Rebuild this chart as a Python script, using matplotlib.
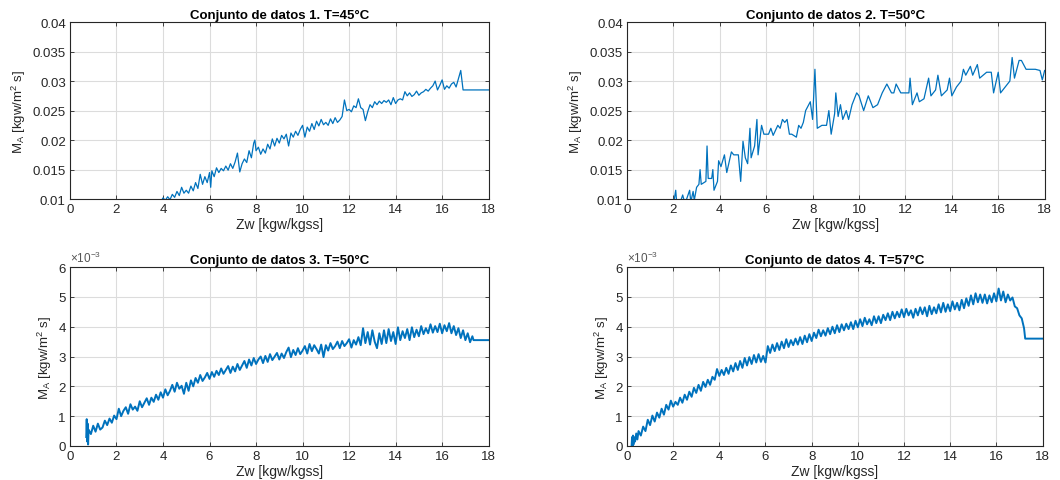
import matplotlib
matplotlib.use("Agg")
import matplotlib.pyplot as plt
from matplotlib.ticker import FuncFormatter

# ---------------- data ----------------
titles = ["Conjunto de datos 1. T=45°C", "Conjunto de datos 2. T=50°C",
          "Conjunto de datos 3. T=50°C", "Conjunto de datos 4. T=57°C"]

x1 = [3.90, 4.0, 4.1, 4.2, 4.3, 4.4, 4.5, 4.6, 4.7, 4.8, 4.9, 5.0, 5.1, 5.2, 5.3, 5.4, 5.5, 5.6, 5.7, 5.8,
      5.9, 6.0, 6.05, 6.1, 6.2, 6.3, 6.4, 6.5, 6.6, 6.7, 6.8, 6.9, 7.0, 7.1, 7.2, 7.3, 7.4, 7.5, 7.6, 7.7,
      7.8, 7.9, 7.95, 8.0, 8.1, 8.2, 8.3, 8.4, 8.5, 8.6, 8.7, 8.8, 8.9, 9.0, 9.1, 9.2, 9.3, 9.4, 9.5, 9.6,
      9.7, 9.8, 9.9, 10.0, 10.1, 10.2, 10.3, 10.4, 10.5, 10.6, 10.7, 10.8, 10.9, 11.0, 11.1, 11.2, 11.3,
      11.4, 11.5, 11.6, 11.7, 11.8, 11.9, 12.0, 12.1, 12.2, 12.3, 12.4, 12.5, 12.6, 12.7, 12.8, 12.9, 13.0,
      13.1, 13.2, 13.3, 13.4, 13.5, 13.6, 13.7, 13.8, 13.9, 14.0, 14.1, 14.2, 14.3, 14.4, 14.5, 14.6, 14.7,
      14.8, 14.9, 15.0, 15.1, 15.2, 15.3, 15.4, 15.5, 15.6, 15.7, 15.8, 15.9, 16.0, 16.1, 16.2, 16.3, 16.4,
      16.5, 16.6, 16.7, 16.8, 16.9, 18.0]
y1 = [9.5, 10.2, 9.8, 10.4, 9.9, 10.8, 10.3, 11.3, 10.6, 12.0, 11.0, 11.5, 11.0, 12.2, 11.4, 12.8, 11.8,
      14.2, 12.5, 13.8, 12.8, 14.5, 12.0, 14.8, 13.8, 15.3, 14.5, 15.2, 14.8, 15.6, 14.9, 16.0, 15.2, 16.3,
      17.8, 14.6, 16.0, 16.8, 16.2, 18.2, 17.0, 19.5, 20.0, 18.2, 18.8, 17.6, 18.5, 17.8, 19.3, 18.5, 20.2,
      19.0, 20.3, 19.5, 20.8, 20.2, 21.0, 19.0, 21.2, 20.5, 21.5, 20.8, 21.8, 22.5, 20.5, 22.2, 21.5, 22.8,
      21.8, 23.2, 22.4, 23.5, 22.6, 23.0, 22.5, 23.6, 22.8, 23.8, 23.0, 23.4, 24.0, 26.8, 25.0, 25.2, 24.8,
      25.8, 25.5, 27.0, 25.5, 25.2, 23.3, 24.8, 26.0, 25.5, 26.5, 26.0, 26.6, 26.2, 26.7, 26.4, 26.8, 26.0,
      27.2, 26.2, 26.8, 27.0, 26.8, 28.2, 27.5, 28.0, 27.4, 27.7, 28.3, 27.6, 28.0, 28.2, 28.6, 28.3, 28.8,
      29.2, 30.0, 28.5, 29.3, 30.2, 28.6, 29.2, 28.8, 29.5, 29.8, 29.0, 30.4, 31.8, 28.5, 28.5]

x2 = [2.0, 2.1, 2.15, 2.3, 2.4, 2.5, 2.7, 2.75, 2.85, 2.9, 3.0, 3.1, 3.15, 3.2, 3.4, 3.45, 3.5, 3.65,
      3.7, 3.75, 3.9, 3.95, 4.05, 4.2, 4.3, 4.5, 4.6, 4.8, 4.9, 5.0, 5.1, 5.2, 5.3, 5.35, 5.5, 5.6, 5.65,
      5.8, 5.9, 6.1, 6.2, 6.3, 6.5, 6.6, 6.7, 6.8, 6.9, 7.0, 7.1, 7.3, 7.4, 7.5, 7.6, 7.7, 7.9, 8.0, 8.1,
      8.2, 8.4, 8.6, 8.7, 8.8, 8.95, 9.0, 9.1, 9.2, 9.3, 9.45, 9.55, 9.7, 9.9, 10.0, 10.2, 10.4, 10.6,
      10.8, 11.0, 11.2, 11.4, 11.5, 11.6, 11.8, 12.0, 12.15, 12.2, 12.3, 12.5, 12.6, 12.8, 13.0, 13.1,
      13.3, 13.4, 13.55, 13.8, 13.9, 14.0, 14.2, 14.4, 14.5, 14.6, 14.8, 14.9, 15.1, 15.2, 15.5, 15.7,
      15.8, 16.0, 16.1, 16.3, 16.5, 16.6, 16.7, 16.9, 17.0, 17.2, 17.6, 17.8, 17.9, 18.0]
y2 = [9.0, 11.5, 9.0, 9.5, 10.7, 9.2, 11.5, 9.5, 11.3, 9.8, 12.0, 12.5, 15.0, 12.5, 13.0, 19.0, 13.5,
      13.5, 15.0, 11.5, 13.0, 16.5, 15.5, 17.5, 14.5, 18.0, 17.5, 17.5, 13.0, 19.8, 17.0, 16.0, 22.0, 17.0,
      19.0, 23.5, 17.5, 22.5, 21.0, 21.0, 22.0, 20.8, 22.5, 22.0, 23.5, 23.0, 23.5, 21.0, 21.0, 20.5,
      22.5, 22.0, 23.0, 25.0, 26.5, 23.5, 32.0, 22.0, 22.5, 22.5, 25.0, 21.0, 24.5, 28.0, 24.0, 26.0,
      23.5, 25.0, 23.5, 26.0, 28.0, 27.5, 25.0, 27.5, 25.5, 26.0, 28.0, 29.5, 28.0, 28.0, 29.5, 28.0,
      28.0, 28.0, 30.5, 26.0, 28.0, 26.5, 27.0, 30.5, 27.5, 28.5, 31.0, 27.5, 28.5, 30.5, 27.5, 29.0,
      30.0, 32.0, 31.0, 32.5, 31.0, 32.8, 30.5, 31.5, 31.5, 28.0, 31.5, 28.0, 29.0, 30.0, 34.0, 30.5,
      33.5, 33.5, 32.0, 32.0, 31.8, 30.2, 31.8]

x3 = [0.70, 0.72, 0.74, 0.76, 0.78, 0.80, 0.9, 1.0, 1.1, 1.2, 1.3, 1.4, 1.5, 1.6, 1.7, 1.8, 1.9, 2.0,
      2.1, 2.2, 2.3, 2.4, 2.5, 2.6, 2.7, 2.8, 2.9, 3.0, 3.1, 3.2, 3.3, 3.4, 3.5, 3.6, 3.7, 3.8, 3.9, 4.0,
      4.1, 4.2, 4.3, 4.4, 4.5, 4.6, 4.7, 4.8, 4.9, 5.0, 5.1, 5.2, 5.3, 5.4, 5.5, 5.6, 5.7, 5.8, 5.9, 6.0,
      6.1, 6.2, 6.3, 6.4, 6.5, 6.6, 6.7, 6.8, 6.9, 7.0, 7.1, 7.2, 7.3, 7.4, 7.5, 7.6, 7.7, 7.8, 7.9, 8.0,
      8.1, 8.2, 8.3, 8.4, 8.5, 8.6, 8.7, 8.8, 8.9, 9.0, 9.1, 9.2, 9.3, 9.4, 9.5, 9.6, 9.7, 9.8, 9.9, 10.0,
      10.1, 10.2, 10.3, 10.4, 10.5, 10.6, 10.7, 10.8, 10.9, 11.0, 11.1, 11.2, 11.3, 11.4, 11.5, 11.6,
      11.7, 11.8, 11.9, 12.0, 12.1, 12.2, 12.3, 12.4, 12.5, 12.6, 12.7, 12.8, 12.9, 13.0, 13.1, 13.2,
      13.3, 13.4, 13.5, 13.6, 13.7, 13.8, 13.9, 14.0, 14.1, 14.2, 14.3, 14.4, 14.5, 14.6, 14.7, 14.8,
      14.9, 15.0, 15.1, 15.2, 15.3, 15.4, 15.5, 15.6, 15.7, 15.8, 15.9, 16.0, 16.1, 16.2, 16.3, 16.4,
      16.5, 16.6, 16.7, 16.8, 16.9, 17.0, 17.1, 17.2, 17.3, 17.35, 18.0]
y3 = [0.30, 0.90, 0.15, 0.75, 0.05, 0.55,
      0.40, 0.68, 0.48, 0.75, 0.55, 0.62, 0.85, 0.70, 0.92, 0.78, 1.02, 0.90,
      1.25, 1.00, 1.18, 1.30, 1.08, 1.40, 1.22, 1.32, 1.18, 1.50,
      1.30, 1.45, 1.60, 1.38, 1.62, 1.48, 1.72, 1.55, 1.80, 1.62,
      1.90, 1.70, 1.85, 2.05, 1.82, 2.12, 1.92, 2.02, 1.75, 2.12,
      1.85, 2.20, 2.00, 2.28, 2.12, 2.38, 2.18, 2.30, 2.45, 2.25,
      2.48, 2.32, 2.52, 2.38, 2.60, 2.42, 2.55, 2.68, 2.45, 2.66,
      2.50, 2.75, 2.55, 2.70, 2.85, 2.62, 2.90, 2.70, 2.95, 2.75,
      2.90, 3.00, 2.78, 3.02, 2.82, 3.08, 2.88, 3.00, 3.12, 2.90,
      3.10, 2.95, 3.15, 3.30, 2.98, 3.22, 3.05, 3.28, 3.08, 3.20,
      3.35, 3.10, 3.42, 3.18, 3.38, 3.25, 3.10, 3.40, 2.98, 3.38,
      3.20, 3.45, 3.25, 3.35, 3.50, 3.28, 3.52, 3.35, 3.45, 3.58,
      3.30, 3.55, 3.40, 3.65, 3.38, 3.95, 3.45, 3.82, 3.40, 3.88,
      3.50, 3.28, 3.78, 3.42, 3.88, 3.45, 3.92, 3.52, 3.82, 3.42,
      3.98, 3.55, 3.85, 3.62, 3.92, 3.55, 3.98, 3.65, 3.90, 3.68,
      4.02, 3.75, 3.95, 3.78, 4.08, 3.80, 4.02, 3.82, 4.10, 3.78,
      4.05, 3.85, 4.12, 3.78, 4.02, 3.72, 3.95, 3.62, 3.88, 3.55,
      3.78, 3.48, 3.68, 3.55, 3.55]

x4 = [0.20, 0.22, 0.24, 0.26, 0.28, 0.30, 0.35, 0.4, 0.45, 0.5, 0.6, 0.7, 0.8, 0.9, 1.0, 1.1, 1.2, 1.3,
      1.4, 1.5, 1.6, 1.7, 1.8, 1.9, 2.0, 2.1, 2.2, 2.3, 2.4, 2.5, 2.6, 2.7, 2.8, 2.9, 3.0, 3.1, 3.2, 3.3,
      3.4, 3.5, 3.6, 3.7, 3.8, 3.9, 4.0, 4.1, 4.2, 4.3, 4.4, 4.5, 4.6, 4.7, 4.8, 4.9, 5.0, 5.1, 5.2, 5.3,
      5.4, 5.5, 5.6, 5.7, 5.8, 5.9, 6.0, 6.1, 6.2, 6.3, 6.4, 6.5, 6.6, 6.7, 6.8, 6.9, 7.0, 7.1, 7.2, 7.3,
      7.4, 7.5, 7.6, 7.7, 7.8, 7.9, 8.0, 8.1, 8.2, 8.3, 8.4, 8.5, 8.6, 8.7, 8.8, 8.9, 9.0, 9.1, 9.2, 9.3,
      9.4, 9.5, 9.6, 9.7, 9.8, 9.9, 10.0, 10.1, 10.2, 10.3, 10.4, 10.5, 10.6, 10.7, 10.8, 10.9, 11.0,
      11.1, 11.2, 11.3, 11.4, 11.5, 11.6, 11.7, 11.8, 11.9, 12.0, 12.1, 12.2, 12.3, 12.4, 12.5, 12.6,
      12.7, 12.8, 12.9, 13.0, 13.1, 13.2, 13.3, 13.4, 13.5, 13.6, 13.7, 13.8, 13.9, 14.0, 14.1, 14.2,
      14.3, 14.4, 14.5, 14.6, 14.7, 14.8, 14.9, 15.0, 15.1, 15.2, 15.3, 15.4, 15.5, 15.6, 15.7, 15.8,
      15.9, 16.0, 16.1, 16.2, 16.3, 16.4, 16.5, 16.6, 16.7, 16.8, 16.9, 17.0, 17.1, 17.2, 17.25, 18.0]
y4 = [0.00, 0.30, 0.00, 0.35, 0.05, 0.30, 0.15, 0.42, 0.22, 0.50,
      0.35, 0.65, 0.50, 0.88, 0.70, 1.02, 0.82, 1.12, 0.95, 1.25,
      1.05, 1.38, 1.22, 1.52, 1.32, 1.48, 1.38, 1.62, 1.45, 1.72,
      1.55, 1.82, 1.65, 1.95, 1.78, 2.05, 1.85, 2.15, 1.98, 2.22,
      2.05, 2.32, 2.22, 2.58, 2.35, 2.55, 2.38, 2.62, 2.42, 2.70,
      2.50, 2.78, 2.55, 2.85, 2.62, 2.95, 2.70, 2.98, 2.75, 3.05,
      2.80, 3.08, 2.82, 3.02, 2.80, 3.35, 3.12, 3.40, 3.18, 3.45,
      3.22, 3.50, 3.28, 3.58, 3.32, 3.55, 3.38, 3.60, 3.40, 3.65,
      3.42, 3.70, 3.48, 3.75, 3.52, 3.80, 3.62, 3.90, 3.68, 3.88,
      3.70, 3.95, 3.75, 4.00, 3.78, 4.05, 3.82, 4.08, 3.88, 4.10,
      3.92, 4.15, 3.92, 4.20, 3.98, 4.25, 4.02, 4.30, 4.08, 4.25,
      4.05, 4.35, 4.12, 4.35, 4.12, 4.40, 4.22, 4.45, 4.22, 4.50,
      4.28, 4.50, 4.32, 4.58, 4.32, 4.60, 4.38, 4.55, 4.30, 4.60,
      4.38, 4.65, 4.42, 4.65, 4.35, 4.70, 4.42, 4.65, 4.45, 4.75,
      4.48, 4.80, 4.50, 4.75, 4.52, 4.85, 4.58, 4.80, 4.55, 4.90,
      4.62, 4.95, 4.70, 5.05, 4.75, 5.12, 4.82, 5.08, 4.80, 5.08,
      4.78, 5.05, 4.82, 5.12, 4.85, 5.28, 4.88, 5.18, 4.82, 5.08,
      4.88, 4.98, 4.68, 4.62, 4.38, 4.28, 3.95,
      3.60, 3.60]

series = [(x1, [v * 1e-3 for v in y1]), (x2, [v * 1e-3 for v in y2]),
          (x3, [v * 1e-3 for v in y3]), (x4, [v * 1e-3 for v in y4])]
xticks = [0, 2, 4, 6, 8, 10, 12, 14, 16, 18]
yticks_top = [0.01, 0.015, 0.02, 0.025, 0.03, 0.035, 0.04]
yticks_bot = [0, 0.001, 0.002, 0.003, 0.004, 0.005, 0.006]

# ---------------- figure ----------------
plt.rcParams['font.family'] = ['Liberation Sans', 'DejaVu Sans']
plt.rcParams['mathtext.fontset'] = 'custom'
plt.rcParams['mathtext.rm'] = 'Liberation Sans'
plt.rcParams['mathtext.it'] = 'Liberation Sans'

fig = plt.figure(figsize=(10.6, 4.81), dpi=100)
positions = [[0.066, 0.584, 0.395, 0.368], [0.5915, 0.584, 0.394, 0.368],
             [0.066, 0.0707, 0.395, 0.372], [0.5915, 0.0707, 0.392, 0.372]]
line_color = '#0072BD'
text_color = '#262626'
widths = [0.9, 0.9, 1.4, 1.4]

for i, (pos, (xs, ys)) in enumerate(zip(positions, series)):
    ax = fig.add_axes(pos)
    ax.plot(xs, ys, color=line_color, lw=widths[i])
    ax.set_xlim(0, 18)
    ax.set_xticks(xticks)
    if i < 2:
        ax.set_ylim(0.01, 0.04)
        ax.set_yticks(yticks_top)
        ax.yaxis.set_major_formatter(FuncFormatter(lambda v, p: '%g' % round(v, 4)))
    else:
        ax.set_ylim(0, 0.006)
        ax.set_yticks(yticks_bot)
        ax.yaxis.set_major_formatter(FuncFormatter(lambda v, p: '%g' % round(v * 1e3, 3)))
        ax.text(0.0, 1.01, r'$\times 10^{-3}$', transform=ax.transAxes, fontsize=8.5,
                color='#555555', ha='left', va='bottom')
    ax.grid(True, color='#dcdcdc', lw=0.8)
    ax.set_axisbelow(True)
    for s in ax.spines.values():
        s.set_color(text_color)
        s.set_linewidth(0.8)
    ax.tick_params(direction='in', length=3, width=0.6, colors=text_color,
                   labelsize=9.5, top=True, right=True, pad=3)
    ax.set_title(titles[i], fontsize=9.5, fontweight='bold', color='black', pad=3)
    ax.set_xlabel('Zw [kgw/kgss]', fontsize=10, color=text_color, labelpad=1)
    ax.set_ylabel(r'M$_A$ [kgw/m$^2$ s]', fontsize=9.5, color=text_color, labelpad=3)

fig.savefig('out.png', dpi=100, facecolor='white')
